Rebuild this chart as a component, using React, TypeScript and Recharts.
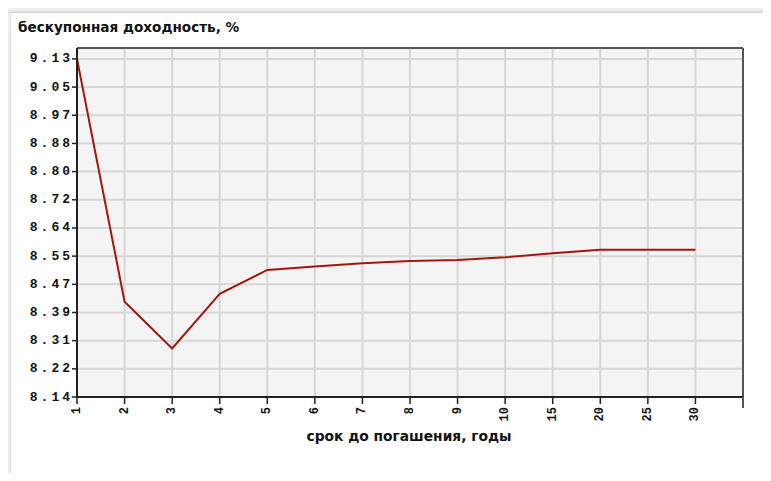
import { CartesianGrid, Line, LineChart, ReferenceLine, XAxis, YAxis } from 'recharts';

// maturity buckets (last slot on the axis is left empty)
const terms = ['1', '2', '3', '4', '5', '6', '7', '8', '9', '10', '15', '20', '25', '30'];
const yields = [9.13, 8.419, 8.282, 8.442, 8.512, 8.522, 8.532, 8.538, 8.541, 8.549, 8.561, 8.571, 8.571, 8.571];
const yTickLabels = ['8.14', '8.22', '8.31', '8.39', '8.47', '8.55', '8.64', '8.72', '8.80', '8.88', '8.97', '9.05', '9.13'];

const Y_MIN = 8.14;
const Y_STEP = (9.13 - 8.14) / 12;
const Y_MAX = 9.162;
const X_MAX = terms.length; // empty slot at the end

const chartData = terms.map((t, i) => ({ idx: i, term: t, y: yields[i] }));
const yTicks = yTickLabels.map((_, i) => Y_MIN + i * Y_STEP);
const xTicks = Array.from({ length: X_MAX + 1 }, (_, i) => i);

const MONO = '"Liberation Mono", "DejaVu Sans Mono", monospace';
const SANS = '"DejaVu Sans", Verdana, sans-serif';

function XTick(props: any) {
  const { x, y, payload } = props;
  const i = payload.value as number;
  const last = i === X_MAX;
  return (
    <g>
      <line x1={x} y1={y} x2={x} y2={y + (last ? 11 : 7)} stroke={last ? '#555' : '#222'} strokeWidth={last ? 2 : 1.5} />
      {!last && (
        <text
          transform={`translate(${x},${y + 10}) rotate(-90)`}
          textAnchor="end"
          dominantBaseline="central"
          fontFamily={MONO}
          fontWeight="bold"
          fontSize={12}
          fill="#111"
        >
          {terms[i]}
        </text>
      )}
    </g>
  );
}

function YTick(props: any) {
  const { x, y, index } = props;
  return (
    <text
      x={x + 3}
      y={y}
      textAnchor="end"
      dominantBaseline="central"
      fontFamily={MONO}
      fontWeight="bold"
      fontSize={13}
      letterSpacing={3}
      fill="#111"
    >
      {yTickLabels[index]}
    </text>
  );
}

export default function App() {
  return (
    <div style={{ position: 'relative', width: 771, height: 481, margin: -8, background: '#fff', overflow: 'hidden' }}>
      <div
        style={{
          position: 'absolute',
          left: 0,
          top: 0,
          width: 771,
          height: 13,
          background: 'linear-gradient(#fbfbfb, #ececec)',
        }}
      />
      <div
        style={{
          position: 'absolute',
          left: 11,
          top: 13,
          width: 780,
          height: 480,
          background: '#fff',
          boxShadow: '-2px -1px 3px rgba(0,0,0,0.15)',
        }}
      />
      <div
        style={{
          position: 'absolute',
          left: 18,
          top: 19,
          fontFamily: SANS,
          fontWeight: 'bold',
          fontSize: 13.6,
          color: '#111',
          whiteSpace: 'nowrap',
        }}
      >
        бескупонная доходность, %
      </div>
      <div
        style={{
          position: 'absolute',
          left: 77,
          width: 664,
          top: 428,
          textAlign: 'center',
          fontFamily: SANS,
          fontWeight: 'bold',
          fontSize: 13.8,
          color: '#111',
          whiteSpace: 'nowrap',
        }}
      >
        срок до погашения, годы
      </div>
      <div style={{ position: 'absolute', left: 0, top: 0 }}>
        <LineChart width={771} height={481} data={chartData} margin={{ top: 48, right: 28, bottom: 34, left: 0 }}>
          <CartesianGrid fill="#f4f4f4" stroke="#d6d6d6" strokeWidth={2} horizontalValues={yTicks} verticalValues={xTicks} />
          <XAxis
            dataKey="idx"
            type="number"
            domain={[0, X_MAX]}
            ticks={xTicks}
            interval={0}
            height={50}
            axisLine={{ stroke: '#222', strokeWidth: 2 }}
            tickLine={false}
            tickSize={0}
            tickMargin={0}
            tick={<XTick />}
          />
          <YAxis
            type="number"
            domain={[Y_MIN, Y_MAX]}
            ticks={yTicks}
            interval={0}
            width={77}
            axisLine={{ stroke: '#222', strokeWidth: 2 }}
            tickLine={{ stroke: '#222', strokeWidth: 1.5 }}
            tickSize={5}
            tick={<YTick />}
          />
          <ReferenceLine y={Y_MAX} stroke="#555" strokeWidth={2} />
          <ReferenceLine x={X_MAX} stroke="#555" strokeWidth={2} />
          <Line
            dataKey="y"
            type="linear"
            stroke="#a3160b"
            strokeWidth={2}
            dot={false}
            activeDot={false}
            isAnimationActive={false}
          />
        </LineChart>
      </div>
    </div>
  );
}
